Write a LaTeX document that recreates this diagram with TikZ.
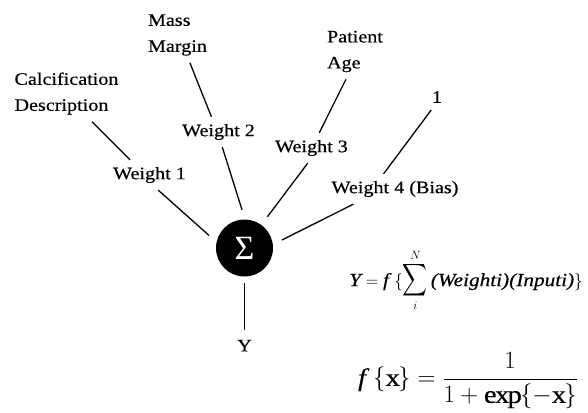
\documentclass[tikz,border=0pt]{standalone}
\usepackage{amsmath}
\usepackage{graphicx}
\usepackage{fontspec}
\setmainfont{Liberation Serif}[FakeStretch=1.15, FakeBold=0.4]
\newfontfamily\sigmafont{Liberation Serif}
\usetikzlibrary{positioning, calc}
\tikzset{
    lbl/.style={font=\fontsize{17.5}{26}\selectfont, align=left, inner sep=7pt},
    neuron/.style={circle, fill=black, text=white, minimum size=57pt, inner sep=0pt, font=\sigmafont\fontsize{34}{34}\selectfont},
    wire/.style={line width=1.3pt},
    to_sum/.style={wire, shorten >=10pt}
}

\begin{document}
\begin{tikzpicture}[x=1pt, y=-1pt]
    \useasboundingbox (0,0) rectangle (588,412);

    % Summation unit and output
    \node (sum) [neuron] at (244.5,248) {Σ};
    \node (y_out) [lbl, below=56pt of sum] {Y};

    % Inputs
    \node (calc_in) [lbl] at (66.5,93.5) {Calcification\\Description};
    \node (mass_in) [lbl] at (177.5,35) {Mass\\Margin};
    \node (age_in) [lbl] at (355,51.5) {Patient\\Age};
    \node (bias_in) [lbl] at (437,97) {1};

    % Weights
    \node (w1) [lbl] at (149.5,175) {Weight 1};
    \node (w2) [lbl] at (218.5,132) {Weight 2};
    \node (w3) [lbl] at (311.5,148) {Weight 3};
    \node (w4) [lbl] at (395,189) {Weight 4 (Bias)};

    % Equations
    \node (sum_eq) [font=\fontsize{18.5}{22}\selectfont, inner sep=0pt] at (466,280)
        {$\textit{Y} = \textit{f}\ \{\mathop{\scalebox{1}[1.3]{$\displaystyle\sum$}}\limits_{i}^{N}\textit{(Weighti)(Inputi)}\}$};
    \node (act_eq) [font=\fontsize{25}{30}\selectfont, inner sep=0pt] at (468,381)
        {$\textit{f}\ \{\mathrm{x}\} = \dfrac{1}{1+\mathrm{exp}\{-\mathrm{x}\}}$};

    % Connections
    \draw [wire] (calc_in.-48) -- (w1.142);
    \draw [to_sum] (w1.-60) -- (sum.168);
    \draw [wire] (mass_in.-66) -- (w2.115);
    \draw [to_sum] (w2.-76) -- (sum.89);
    \draw [wire] (age_in.-108) -- (w3.63);
    \draw [to_sum] (w3.-104) -- (sum.54);
    \draw [wire] (bias_in.-114) -- (w4.127);
    \draw [to_sum] (w4.200) -- (sum.7);
    \draw [wire, shorten <=6.5pt, shorten >=3pt] (sum) -- (y_out);
\end{tikzpicture}
\end{document}
